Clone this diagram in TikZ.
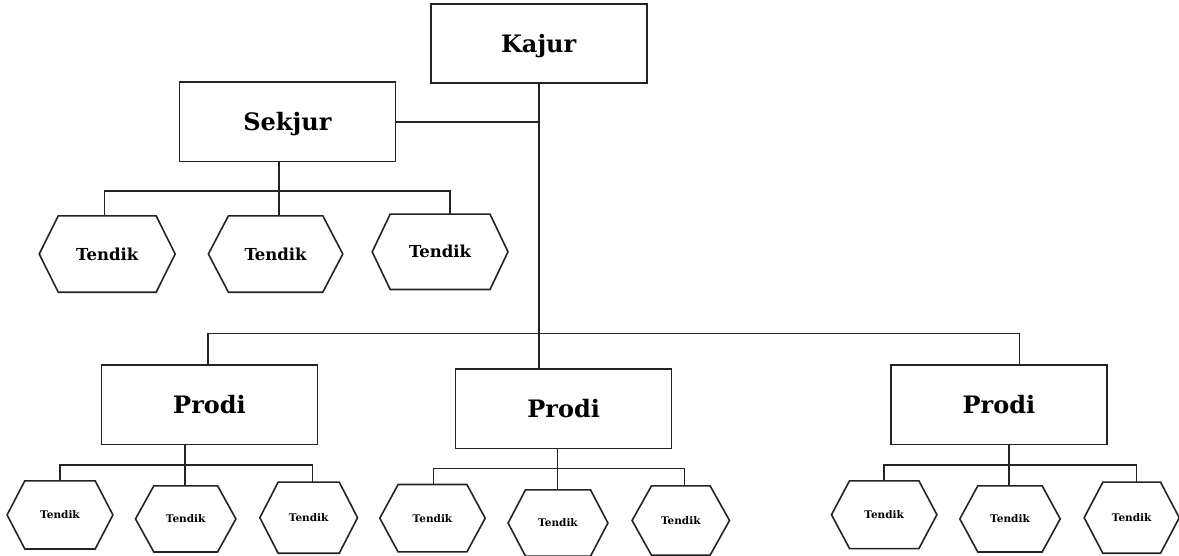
\documentclass[tikz,border=0pt]{standalone}
\usepackage{fontspec}
\setmainfont{DejaVu Serif}
\usetikzlibrary{calc}
\definecolor{linegray}{RGB}{35,35,35}
\tikzset{
  unitbox/.style={draw=linegray, line width=1.6pt, minimum width=216pt,
    minimum height=79.5pt, inner sep=0pt,
    font=\bfseries\fontsize{24}{28}\selectfont, text height=17.5pt, text depth=0pt},
  bighex/.style={inner sep=0pt, font=\bfseries\fontsize{16.5}{18}\selectfont,
    text height=12pt, text depth=0pt},
  smallhex/.style={inner sep=0pt, font=\bfseries\fontsize{10.5}{12}\selectfont,
    text height=7.7pt, text depth=0pt},
  outline/.style={draw=linegray, line width=1.6pt, line join=miter},
  link/.style={draw=linegray, line width=1.6pt},
}
% hexagon with pointed left/right ends:
% #1 name, #2 cx, #3 cy, #4 width, #5 height, #6 inset of top edge, #7 text style, #8 label
\newcommand\hexnode[8]{%
  \node[#7, minimum width=#4pt, minimum height=#5pt] (#1) at (#2,#3) {#8};
  \draw[outline] (#1.west) -- ([xshift=#6pt]#1.north west)
    -- ([xshift=-#6pt]#1.north east) -- (#1.east)
    -- ([xshift=-#6pt]#1.south east) -- ([xshift=#6pt]#1.south west) -- cycle;
}
\begin{document}
\begin{tikzpicture}[x=1pt, y=-1pt]
\useasboundingbox (0,0) rectangle (1179,555);

% boxes
\node[unitbox] (kajur)  at (538.7,43.5)  {Kajur};
\node[unitbox] (sekjur) at (287.4,121.7) {Sekjur};
\node[unitbox] (prodi1) at (209.5,404.8) {Prodi};
\node[unitbox] (prodi2) at (563.6,408.7) {Prodi};
\node[unitbox] (prodi3) at (998.9,404.8) {Prodi};

% staff under Sekjur
\hexnode{h1}{107.2}{254}{135.5}{76}{19}{bighex}{Tendik}
\hexnode{h2}{275.6}{254}{134}{76}{20}{bighex}{Tendik}
\hexnode{h3}{440.1}{251.8}{135.4}{75}{18}{bighex}{Tendik}

% staff under each Prodi
\hexnode{a1}{60}{514.9}{105.4}{67.7}{17.7}{smallhex}{Tendik}
\hexnode{a2}{185.7}{518.9}{100}{65.7}{18.3}{smallhex}{Tendik}
\hexnode{a3}{308.7}{517.7}{97.3}{70.7}{18.3}{smallhex}{Tendik}

\hexnode{b1}{432.5}{518.2}{105}{67}{18.3}{smallhex}{Tendik}
\hexnode{b2}{558}{523}{99.4}{66}{17.4}{smallhex}{Tendik}
\hexnode{b3}{680.8}{520.5}{97}{69}{19.4}{smallhex}{Tendik}

\hexnode{c1}{884.2}{514.7}{105}{67.3}{18}{smallhex}{Tendik}
\hexnode{c2}{1010}{518.9}{100}{65.7}{18}{smallhex}{Tendik}
\hexnode{c3}{1131.7}{517.7}{94.7}{70.7}{18.7}{smallhex}{Tendik}

% Kajur trunk, Sekjur branch, Prodi bus
\draw[link] (kajur.south) -- (kajur.south |- prodi2.north);
\draw[link] (sekjur.east) -- (sekjur.east -| kajur.south);
\coordinate (p1t) at ([xshift=-1.7pt]prodi1.north);
\coordinate (p3t) at ([xshift=20.4pt]prodi3.north);
\coordinate (pbus) at (539,333.3);
\draw[link] (p1t) -- (p1t |- pbus) -- (p3t |- pbus) -- (p3t);

% Sekjur to its staff
\coordinate (sbus) at (279,191);
\draw[link] (sbus |- sekjur.south) -- (sbus |- h2.north);
\coordinate (h1t) at ([xshift=-2.7pt]h1.north);
\coordinate (h3t) at ([xshift=9.6pt]h3.north);
\draw[link] (h1t) -- (h1t |- sbus) -- (h3t |- sbus) -- (h3t);

% Prodi 1 to its staff
\coordinate (abus) at (185,464.7);
\draw[link] (abus |- prodi1.south) -- (abus |- a2.north);
\coordinate (a3t) at ([xshift=3.6pt]a3.north);
\draw[link] (a1.north) -- (a1.north |- abus) -- (a3t |- abus) -- (a3t);

% Prodi 2 to its staff
\coordinate (bbus) at (557.3,468.3);
\draw[link] (bbus |- prodi2.south) -- (bbus |- b2.north);
\coordinate (b1t) at ([xshift=0.8pt]b1.north);
\coordinate (b3t) at ([xshift=3.5pt]b3.north);
\draw[link] (b1t) -- (b1t |- bbus) -- (b3t |- bbus) -- (b3t);

% Prodi 3 to its staff
\coordinate (cbus) at (1009,464.7);
\draw[link] (cbus |- prodi3.south) -- (cbus |- c2.north);
\coordinate (c3t) at ([xshift=4.6pt]c3.north);
\draw[link] (c1.north) -- (c1.north |- cbus) -- (c3t |- cbus) -- (c3t);
\end{tikzpicture}
\end{document}
